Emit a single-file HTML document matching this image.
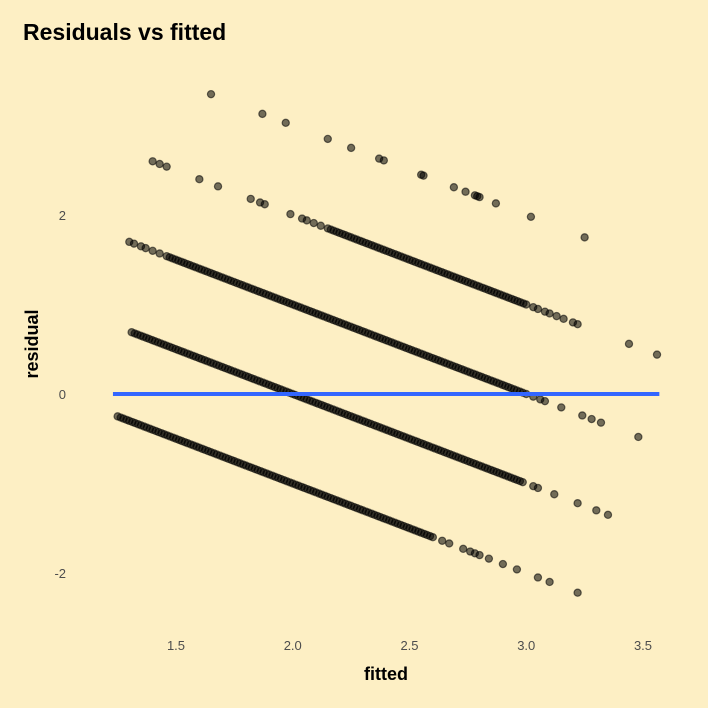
<!DOCTYPE html>
<html><head><meta charset="utf-8"><style>
body{margin:0;background:#fdefc4;}
svg{display:block;font-family:"Liberation Sans",sans-serif;}
</style></head><body>
<svg width="708" height="708" viewBox="0 0 708 708">
<rect width="708" height="708" fill="#fdefc4"/>
<text x="23" y="40" font-size="23" font-weight="bold" fill="#000">Residuals vs fitted</text>
<g id="ticks"></g>
<g id="points"></g>
<g id="fit"></g>
<text x="386" y="680" text-anchor="middle" font-size="18" font-weight="bold">fitted</text>
<text transform="translate(38,344) rotate(-90)" text-anchor="middle" font-size="18" font-weight="bold">residual</text>
</svg>
<script>
const xTicks=[1.5,2.0,2.5,3.0,3.5];
const yTicks=[-2,0,2];
const observedLevels=[1,2,3,4,5];
const band1Fitted=[1.25,1.275,1.3,1.325,1.35,1.375,1.4,1.425,1.45,1.475,1.5,1.525,1.55,1.575,1.6,1.625,1.65,1.675,1.7,1.725,1.75,1.775,1.8,1.825,1.85,1.875,1.9,1.925,1.95,1.975,2,2.025,2.05,2.075,2.1,2.125,2.15,2.175,2.2,2.225,2.25,2.275,2.3,2.325,2.35,2.375,2.4,2.425,2.45,2.475,2.5,2.525,2.55,2.575,2.6,2.64,2.67,2.73,2.76,2.78,2.8,2.84,2.9,2.96,3.05,3.1,3.22,
1.263,1.288,1.313,1.338,1.363,1.388,1.413,1.438,1.463,1.488,1.513,1.538,1.563,1.588,1.613,1.638,1.663,1.688,1.713,1.738,1.763,1.788,1.813,1.838,1.863,1.888,1.913,1.938,1.963,1.988,2.013,2.038,2.063,2.088,2.113,2.138,2.163,2.188,2.213,2.238,2.263,2.288,2.313,2.338,2.363,2.388,2.413,2.438,2.463,2.488,2.513,2.538,2.563,2.588];
const band2Fitted=[1.31,1.335,1.36,1.385,1.41,1.435,1.46,1.485,1.51,1.535,1.56,1.585,1.61,1.635,1.66,1.685,1.71,1.735,1.76,1.785,1.81,1.835,1.86,1.885,1.91,1.935,1.96,1.985,2.01,2.035,2.06,2.085,2.11,2.135,2.16,2.185,2.21,2.235,2.26,2.285,2.31,2.335,2.36,2.385,2.41,2.435,2.46,2.485,2.51,2.535,2.56,2.585,2.61,2.635,2.66,2.685,2.71,2.735,2.76,2.785,2.81,2.835,2.86,2.885,2.91,2.935,2.96,2.985,3.03,3.05,3.12,3.22,3.3,3.35,
1.323,1.348,1.373,1.398,1.423,1.448,1.473,1.498,1.523,1.548,1.573,1.598,1.623,1.648,1.673,1.698,1.723,1.748,1.773,1.798,1.823,1.848,1.873,1.898,1.923,1.948,1.973,1.998,2.023,2.048,2.073,2.098,2.123,2.148,2.173,2.198,2.223,2.248,2.273,2.298,2.323,2.348,2.373,2.398,2.423,2.448,2.473,2.498,2.523,2.548,2.573,2.598,2.623,2.648,2.673,2.698,2.723,2.748,2.773,2.798,2.823,2.848,2.873,2.898,2.923,2.948,2.973];
const band3Fitted=[1.3,1.32,1.35,1.37,1.4,1.43,1.46,1.485,1.51,1.535,1.56,1.585,1.61,1.635,1.66,1.685,1.71,1.735,1.76,1.785,1.81,1.835,1.86,1.885,1.91,1.935,1.96,1.985,2.01,2.035,2.06,2.085,2.11,2.135,2.16,2.185,2.21,2.235,2.26,2.285,2.31,2.335,2.36,2.385,2.41,2.435,2.46,2.485,2.51,2.535,2.56,2.585,2.61,2.635,2.66,2.685,2.71,2.735,2.76,2.785,2.81,2.835,2.86,2.885,2.91,2.935,2.96,2.985,3.0,3.03,3.06,3.08,3.15,3.24,3.28,3.32,3.48,
1.473,1.498,1.523,1.548,1.573,1.598,1.623,1.648,1.673,1.698,1.723,1.748,1.773,1.798,1.823,1.848,1.873,1.898,1.923,1.948,1.973,1.998,2.023,2.048,2.073,2.098,2.123,2.148,2.173,2.198,2.223,2.248,2.273,2.298,2.323,2.348,2.373,2.398,2.423,2.448,2.473,2.498,2.523,2.548,2.573,2.598,2.623,2.648,2.673,2.698,2.723,2.748,2.773,2.798,2.823,2.848,2.873,2.898,2.923,2.948,2.973];
const band4Fitted=[1.4,1.43,1.46,1.6,1.68,1.82,1.86,1.88,1.99,2.04,2.06,2.09,2.12,2.15,2.175,2.2,2.225,2.25,2.275,2.3,2.325,2.35,2.375,2.4,2.425,2.45,2.475,2.5,2.525,2.55,2.575,2.6,2.625,2.65,2.675,2.7,2.725,2.75,2.775,2.8,2.825,2.85,2.875,2.9,2.925,2.95,2.975,3.0,3.03,3.05,3.08,3.1,3.13,3.16,3.2,3.22,3.44,3.56,
2.163,2.188,2.213,2.238,2.263,2.288,2.313,2.338,2.363,2.388,2.413,2.438,2.463,2.488,2.513,2.538,2.563,2.588,2.613,2.638,2.663,2.688,2.713,2.738,2.763,2.788,2.813,2.838,2.863,2.888,2.913,2.938,2.963,2.988];
const band5Fitted=[1.65,1.87,1.97,2.15,2.25,2.37,2.39,2.55,2.56,2.69,2.74,2.78,2.79,2.8,2.87,3.02,3.25];
const bands=[band1Fitted,band2Fitted,band3Fitted,band4Fitted,band5Fitted];
const fitLine=[1.23,3.57];

const NS='http://www.w3.org/2000/svg';
function xs(v){return 176+(v-1.5)*233.5;}
function ys(v){return 394-v*89.5;}
const tg=document.getElementById('ticks');
xTicks.forEach(t=>{const e=document.createElementNS(NS,'text');e.setAttribute('x',xs(t));e.setAttribute('y',650);e.setAttribute('text-anchor','middle');e.setAttribute('font-size','13');e.setAttribute('fill','#4d4d4d');e.textContent=t.toFixed(1);


tg.appendChild(e);});
yTicks.forEach(t=>{const e=document.createElementNS(NS,'text');e.setAttribute('x',66);e.setAttribute('y',ys(t)+5);e.setAttribute('text-anchor','end');e.setAttribute('font-size','13');e.setAttribute('fill','#4d4d4d');e.textContent=t;


tg.appendChild(e);});
const pg=document.getElementById('points');
bands.forEach((arr,i)=>{const obs=observedLevels[i];arr.forEach(f=>{const c=document.createElementNS(NS,'circle');c.setAttribute('cx',xs(f));c.setAttribute('cy',ys(obs-f));c.setAttribute('r',3.6);c.setAttribute('fill','rgba(0,0,0,0.55)');c.setAttribute('stroke','rgba(0,0,0,0.55)');c.setAttribute('stroke-width','1.2');


pg.appendChild(c);});});
const l=document.createElementNS(NS,'line');l.setAttribute('x1',xs(fitLine[0]));l.setAttribute('x2',xs(fitLine[1]));l.setAttribute('y1',ys(0));l.setAttribute('y2',ys(0));l.setAttribute('stroke','#3366ff');l.setAttribute('stroke-width','4');


document.getElementById('fit').appendChild(l);
</script>
</body></html>
